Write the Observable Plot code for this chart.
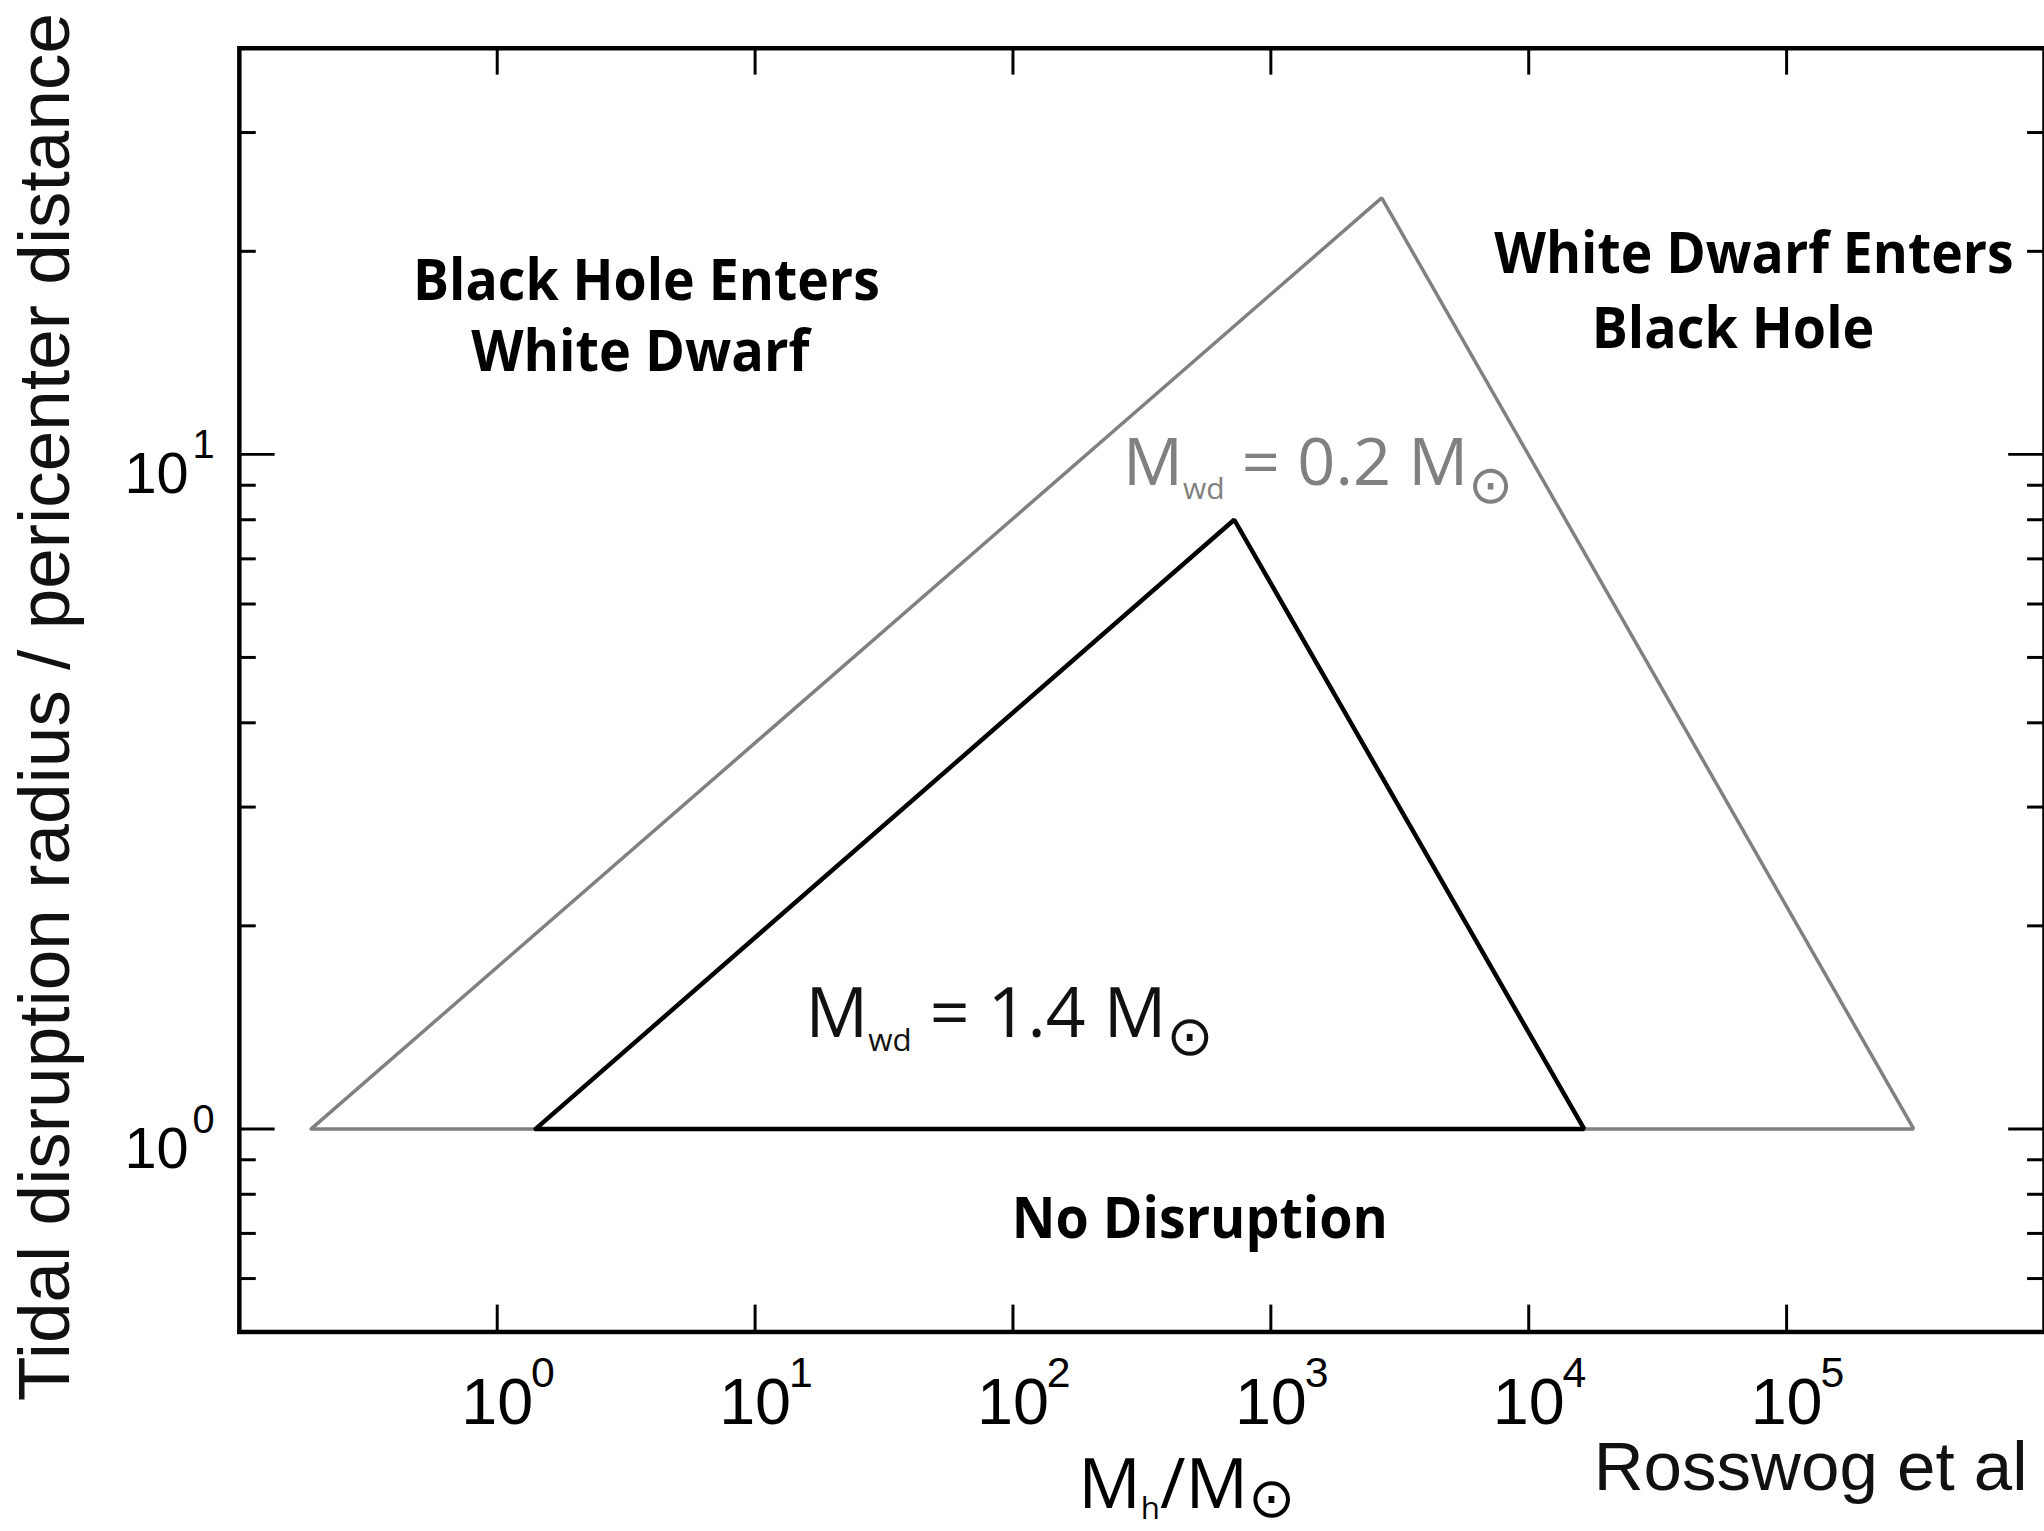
<!DOCTYPE html>
<html>
<head>
<meta charset="utf-8">
<script src="https://cdn.jsdelivr.net/npm/d3@7"></script>
<script src="https://cdn.jsdelivr.net/npm/@observablehq/plot@0.6"></script>
<style>
html, body { margin: 0; padding: 0; background: #fff; overflow: hidden; width: 2044px; height: 1531px; }
#chart svg { display: block; }
</style>
</head>
<body>
<div id="chart"></div>
<script>
// ---------- data ----------
const bhMass02 = [0.19, 2690, 311000];      // M_h / M_sun, vertices of the M_wd = 0.2 region
const ratio02 = [1, 24.0, 1];               // tidal radius / pericenter
const bhMass14 = [1.41, 721, 16400];        // vertices of the M_wd = 1.4 region
const ratio14 = [1, 8.0, 1];

const xTickValues = [1, 10, 100, 1000, 10000, 100000];
const xTickExponents = ["0", "1", "2", "3", "4", "5"];
const yMajorTicks = [1, 10];
const yMajorExponents = ["0", "1"];
const yMinorTicks = [0.6, 0.7, 0.8, 0.9, 2, 3, 4, 5, 6, 7, 8, 9, 20, 30];

const regionLabels = ["Black Hole Enters", "White Dwarf", "White Dwarf Enters", "Black Hole", "No Disruption"];
const regionLabelX = [3.79, 3.59, 74700, 61980, 530];
const regionLabelY = [16.96, 13.27, 18.59, 14.4, 0.688];

const curveLabels = ["M_{wd} = 0.2 M_{⊙}", "M_{wd} = 1.4 M_{⊙}"];
const curveLabelX = [267, 15.7];
const curveLabelY = [9.0, 1.37];

const xLabel = "M_{h}/M_{⊙}";
const yLabel = "Tidal disruption radius / pericenter distance";
const caption = "Rosswog et al";

// ---------- layout ----------
const W = 2054, H = 1531;
const mL = 240, mR = 0, mT = 48, mB = 193;
const plotW = W - mL - mR, plotH = H - mT - mB;

const closed = (xs, ys) => xs.concat(xs[0]).map((x, i) => ({m: x, r: ys.concat(ys[0])[i]}));
const tri02 = closed(bhMass02, ratio02);
const tri14 = closed(bhMass14, ratio14);
const regions = regionLabels.map((t, i) => ({t, x: regionLabelX[i], y: regionLabelY[i]}));
const curves = curveLabels.map((t, i) => ({t, x: curveLabelX[i], y: curveLabelY[i]}));
const xt = xTickValues.map((v, i) => ({v, e: xTickExponents[i]}));
const yt = yMajorTicks.map((v, i) => ({v, e: yMajorExponents[i]}));

const tickFont = "Liberation Sans, Arial, sans-serif";
const labelFont = "Open Sans, Noto Sans, sans-serif";

const chart = Plot.plot({
  width: W, height: H,
  marginLeft: mL, marginRight: mR, marginTop: mT, marginBottom: mB,
  x: {type: "log", domain: [0.1, 1e6], axis: null},
  y: {type: "log", domain: [0.5, 40], axis: null},
  style: {background: "#fff", overflow: "visible"},
  marks: [
    // ticks
    Plot.ruleX(xTickValues, {x: d => d, insetTop: plotH - 27, stroke: "#000", strokeWidth: 3}),
    Plot.ruleX(xTickValues, {x: d => d, insetBottom: plotH - 27, stroke: "#000", strokeWidth: 3}),
    Plot.ruleY(yMajorTicks, {y: d => d, insetRight: plotW - 36, stroke: "#000", strokeWidth: 3}),
    Plot.ruleY(yMajorTicks, {y: d => d, insetLeft: plotW - 36, stroke: "#000", strokeWidth: 3}),
    Plot.ruleY(yMinorTicks, {y: d => d, insetRight: plotW - 17, stroke: "#000", strokeWidth: 3}),
    Plot.ruleY(yMinorTicks, {y: d => d, insetLeft: plotW - 17, stroke: "#000", strokeWidth: 3}),
    // regions
    Plot.line(tri02, {x: "m", y: "r", stroke: "#808080", strokeWidth: 3.5, strokeLinejoin: "miter"}),
    Plot.line(tri14, {x: "m", y: "r", stroke: "#000", strokeWidth: 4.5, strokeLinejoin: "miter"}),
    Plot.frame({stroke: "#000", strokeWidth: 4.5}),
    // x tick labels
    Plot.text(xt, {x: "v", frameAnchor: "bottom", dy: 92, text: () => "10", textAnchor: "middle",
      lineAnchor: "bottom", fontSize: 65, fontFamily: tickFont, fill: "#000"}),
    Plot.text(xt, {x: "v", frameAnchor: "bottom", dx: 34, dy: 55, text: "e", textAnchor: "start",
      lineAnchor: "bottom", fontSize: 43, fontFamily: tickFont, fill: "#000"}),
    // y tick labels
    Plot.text(yt, {y: "v", frameAnchor: "left", dx: -51, dy: 39, text: () => "10", textAnchor: "end",
      lineAnchor: "bottom", fontSize: 58, fontFamily: tickFont, fill: "#000"}),
    Plot.text(yt, {y: "v", frameAnchor: "left", dx: -47, dy: 4, text: "e", textAnchor: "start",
      lineAnchor: "bottom", fontSize: 40, fontFamily: tickFont, fill: "#000"}),
    // region labels
    Plot.text(regions, {x: "x", y: "y", text: "t", textAnchor: "middle", lineAnchor: "bottom",
      fontSize: 58, fontWeight: 700, fontFamily: labelFont, fill: "#000"}),
    // curve labels
    Plot.text(curves.slice(0, 1), {x: "x", y: "y", text: "t", textAnchor: "start", lineAnchor: "bottom",
      fontSize: 67, fontFamily: labelFont, fill: "#808080"}),
    Plot.text(curves.slice(1), {x: "x", y: "y", text: "t", textAnchor: "start", lineAnchor: "bottom",
      fontSize: 70, fontFamily: labelFont, fill: "#111"}),
    // axis titles and caption
    Plot.text([xLabel], {frameAnchor: "bottom", dx: 1083 - (mL + plotW / 2), dy: 177, text: d => d,
      textAnchor: "start", lineAnchor: "bottom", fontSize: 70, fontFamily: labelFont, fill: "#000"}),
    Plot.text([yLabel], {frameAnchor: "left", dx: 69 - mL, dy: 710 - (mT + plotH / 2), text: d => d,
      rotate: -90, textAnchor: "middle", lineAnchor: "bottom", fontSize: 72, fontFamily: tickFont, fill: "#111"}),
    Plot.text([caption], {frameAnchor: "bottom-left", dx: 1601 - mL, dy: 1497 - (mT + plotH), text: d => d,
      textAnchor: "start", lineAnchor: "bottom", fontSize: 69, fontFamily: tickFont, fill: "#111"})
  ]
});

document.getElementById("chart").appendChild(chart);

// ---------- post-processing: subscripts and target text widths ----------
const NS = "http://www.w3.org/2000/svg";
const targetWidths = {
  "Black Hole Enters": 469, "White Dwarf": 340, "White Dwarf Enters": 522,
  "Black Hole": 284, "No Disruption": 378
};
targetWidths[yLabel] = 1395;
targetWidths[caption] = 436;

chart.querySelectorAll("text").forEach(t => {
  const s = t.textContent;
  if (targetWidths[s]) {
    t.setAttribute("textLength", targetWidths[s]);
    t.setAttribute("lengthAdjust", "spacingAndGlyphs");
  }
  if (!s.includes("_{")) return;
  const fs = parseFloat(getComputedStyle(t).fontSize);
  const isX = s === xLabel;
  const subShift = isX ? 0.16 : 0.21;
  const sunShift = isX ? 0.13 : 0.26;
  const parts = [];
  let last = 0;
  s.replace(/_\{([^}]*)\}/g, (m, sub, idx) => {
    if (idx > last) parts.push({t: s.slice(last, idx), sub: false});
    parts.push({t: sub, sub: true});
    last = idx + m.length;
    return m;
  });
  if (last < s.length) parts.push({t: s.slice(last), sub: false});
  t.textContent = "";
  let shift = 0;
  for (const p of parts) {
    const ts = document.createElementNS(NS, "tspan");
    const sun = p.t === "⊙";
    const target = p.sub ? (sun ? sunShift * fs : subShift * fs) : 0;
    ts.setAttribute("dy", target - shift);
    shift = target;
    if (p.sub) ts.setAttribute("font-size", sun ? fs * 0.8 : fs * 0.45);
    if (sun) ts.setAttribute("font-family", "DejaVu Sans");
    ts.textContent = p.t;
    t.appendChild(ts);
  }
});
</script>
</body>
</html>
